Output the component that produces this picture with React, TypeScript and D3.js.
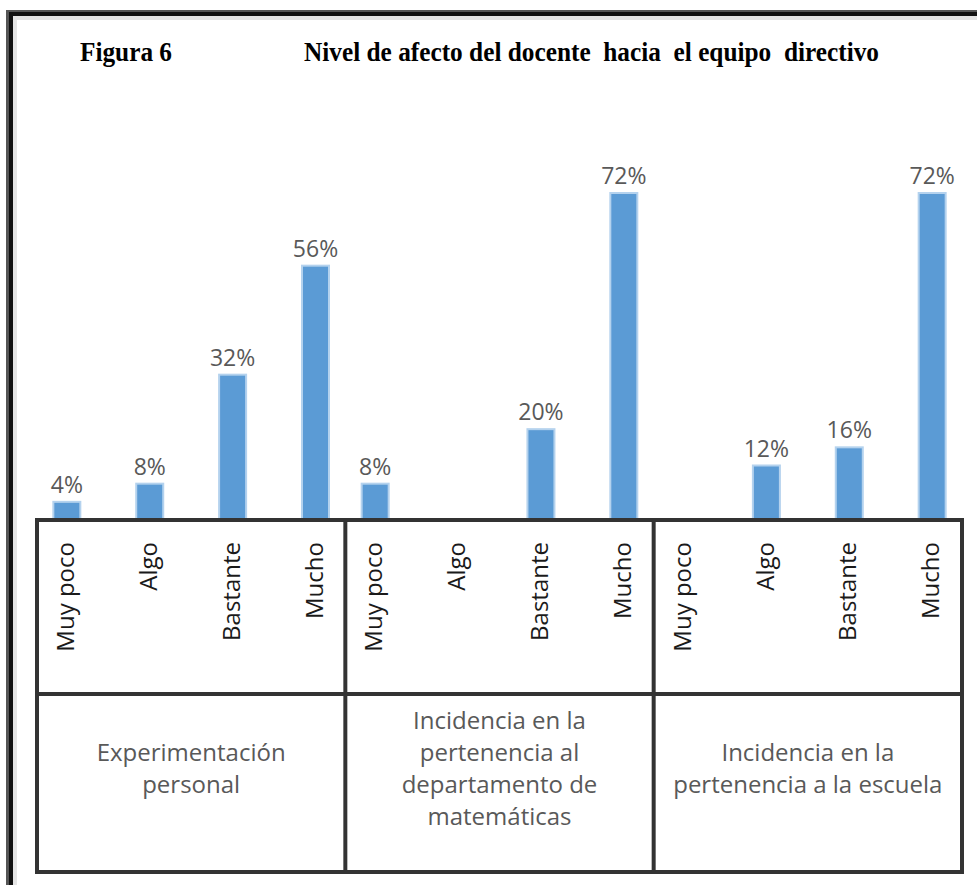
import React, { useEffect, useRef } from 'react';
import * as d3 from 'd3';

// data
const levels = ['Muy poco', 'Algo', 'Bastante', 'Mucho'];
const groups = ['Experimentación personal', 'Incidencia en la pertenencia al departamento de matemáticas', 'Incidencia en la pertenencia a la escuela'];
const groupLines = [
  ['Experimentación', 'personal'],
  ['Incidencia en la', 'pertenencia al', 'departamento de', 'matemáticas'],
  ['Incidencia en la', 'pertenencia a la escuela'],
];
const personalValues = [4, 8, 32, 56];
const departmentValues = [8, 0, 20, 72];
const schoolValues = [0, 12, 16, 72];
const figureLabel = 'Figura 6';
const titleText = 'Nivel de afecto del docente  hacia  el equipo  directivo';

const W = 977;
const H = 885;

const App = () => {
  const ref = useRef<SVGSVGElement | null>(null);

  useEffect(() => {
    const svg = d3.select(ref.current);
    svg.selectAll('*').remove();

    const allValues = [personalValues, departmentValues, schoolValues];
    const rows = groups.flatMap((g, gi) =>
      levels.map((l, li) => ({ group: g, level: l, value: allValues[gi][li] }))
    );

    const tableLeft = 37;
    const tableRight = 962;
    const tableTop = 520;
    const tableMid = 694;
    const tableBottom = 872;

    const x0 = d3.scaleBand().domain(groups).range([tableLeft, tableRight]);
    const x1 = d3.scalePoint().domain(levels).range([0, x0.bandwidth()]).padding(0.36);
    const y = d3.scaleLinear().domain([0, 72]).range([tableTop, 193]);
    const cx = (d) => (x0(d.group) as number) + (x1(d.level) as number);

    svg.append('rect').attr('width', W).attr('height', H).attr('fill', '#fff');

    // outer frame (top + left)
    svg.append('rect').attr('x', 13).attr('y', 16).attr('width', W - 13).attr('height', 4).attr('fill', '#e4e4e4');
    svg.append('rect').attr('x', 13).attr('y', 16).attr('width', 4).attr('height', H - 16).attr('fill', '#e4e4e4');
    svg.append('rect').attr('x', 6).attr('y', 10).attr('width', W - 6).attr('height', 6).attr('fill', '#555');
    svg.append('rect').attr('x', 6).attr('y', 10).attr('width', 7).attr('height', H - 10).attr('fill', '#555');
    svg.append('rect').attr('x', 9).attr('y', 12).attr('width', W - 9).attr('height', 4).attr('fill', '#111');
    svg.append('rect').attr('x', 9).attr('y', 12).attr('width', 4).attr('height', H - 12).attr('fill', '#111');

    // title (the scan is squeezed sideways, so fit the text to its width)
    svg.append('text')
      .attr('x', 80).attr('y', 61)
      .attr('font-family', '"Liberation Serif", "Times New Roman", serif')
      .attr('font-weight', 'bold').attr('font-size', 27).attr('fill', '#000')
      .attr('textLength', 92).attr('lengthAdjust', 'spacingAndGlyphs')
      .text(figureLabel);
    svg.append('text')
      .attr('x', 304).attr('y', 61)
      .attr('font-family', '"Liberation Serif", "Times New Roman", serif')
      .attr('font-weight', 'bold').attr('font-size', 27).attr('fill', '#000')
      .attr('textLength', 575).attr('lengthAdjust', 'spacingAndGlyphs')
      .style('white-space', 'pre')
      .text(titleText);

    const shown = rows.filter((d) => d.value > 0);

    svg.append('g').selectAll('rect').data(shown).join('rect')
      .attr('x', (d) => cx(d) - 13.5)
      .attr('y', (d) => y(d.value))
      .attr('width', 27)
      .attr('height', (d) => tableTop - y(d.value))
      .attr('fill', '#5b9bd5')
      .attr('stroke', '#b4d2ee')
      .attr('stroke-width', 2);

    svg.append('g').selectAll('text').data(shown).join('text')
      .attr('x', cx)
      .attr('y', (d) => y(d.value) - 9)
      .attr('text-anchor', 'middle')
      .attr('font-family', '"Open Sans", sans-serif')
      .attr('font-size', 23)
      .attr('fill', '#595959')
      .text((d) => `${d.value}%`);

    // category table
    const lineColor = '#333';
    const table = svg.append('g').attr('stroke', lineColor).attr('stroke-width', 4).attr('fill', 'none');
    table.append('rect')
      .attr('x', tableLeft).attr('y', tableTop)
      .attr('width', tableRight - tableLeft).attr('height', tableBottom - tableTop);
    table.append('line').attr('x1', tableLeft).attr('x2', tableRight).attr('y1', tableMid).attr('y2', tableMid);
    groups.slice(1).forEach((g) => {
      const gx = x0(g) as number;
      table.append('line').attr('x1', gx).attr('x2', gx).attr('y1', tableTop).attr('y2', tableBottom);
    });

    svg.append('g').selectAll('text').data(rows).join('text')
      .attr('transform', (d) => `translate(${cx(d)},542) rotate(-90)`)
      .attr('dy', '0.3em')
      .attr('text-anchor', 'end')
      .attr('font-family', '"Open Sans", sans-serif')
      .attr('font-size', 24)
      .attr('fill', '#1a1a1a')
      .text((d) => d.level);

    const lineGap = 32;
    groups.forEach((g, gi) => {
      const lines = groupLines[gi];
      const gx = (x0(g) as number) + x0.bandwidth() / 2;
      const first = 771 - ((lines.length - 1) * lineGap) / 2;
      lines.forEach((t, i) => {
        svg.append('text')
          .attr('x', gx)
          .attr('y', first + i * lineGap + 6)
          .attr('text-anchor', 'middle')
          .attr('font-family', '"Open Sans", sans-serif')
          .attr('font-size', 24)
          .attr('fill', '#595959')
          .text(t);
      });
    });
  }, []);

  return (
    <svg ref={ref} width={W} height={H} style={{ position: 'absolute', left: 0, top: 0 }} />
  );
};

export default App;
